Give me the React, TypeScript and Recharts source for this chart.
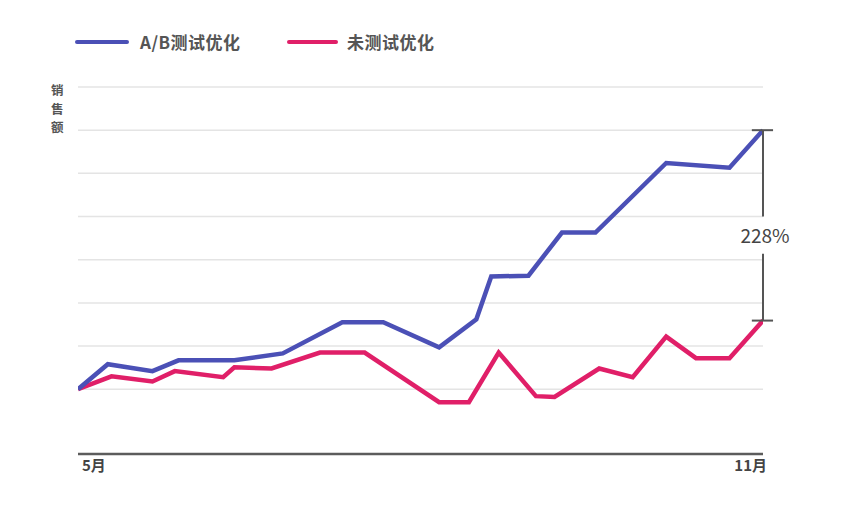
import React from 'react';
import {
    Line,
    LineChart,
    ReferenceDot,
    ReferenceLine,
    XAxis,
    YAxis,
} from 'recharts';

// x = days since 5月1日, y = 销售额 (relative units)
const abDays = [0, 8, 20, 27, 42, 55, 71, 82, 97, 107, 111, 121, 130, 139, 158, 175, 184];
const abSales = [100, 158, 142, 167, 167, 183, 255, 255, 197, 262, 361, 363, 463, 463, 624, 613, 700];

const plainDays = [0, 9, 20, 26, 39, 42, 52, 65, 77, 97, 105, 113, 123, 128, 140, 149, 158, 166, 175, 184];
const plainSales = [100, 130, 118, 142, 128, 151, 148, 185, 185, 70, 70, 185, 84, 82, 148, 128, 222, 172, 172, 259];

const monthTicks = [0, 184];
const monthLabels = ['5月', '11月'];
const gridTicks = [100, 200, 300, 400, 500, 600, 700, 800];

const seriesNames = ['A/B测试优化', '未测试优化'];
const yTitle = ['销', '售', '额'];
const liftLabel = '228%';

const BLUE = '#4b50b6';
const PINK = '#e01f68';
const FONT = '"Noto Sans CJK SC", "Noto Sans", sans-serif';

const abData = abDays.map((d, i) => ({ day: d, sales: abSales[i] }));
const plainData = plainDays.map((d, i) => ({ day: d, sales: plainSales[i] }));

const MonthTick = (props: any) => {
    const { x, y, payload, index } = props;
    const isFirst = index === 0;
    return (
        <text
            x={x + 4}
            y={y + 9}
            textAnchor={isFirst ? 'start' : 'end'}
            fontSize={15}
            fontWeight={700}
            fill="#444"
            fontFamily={FONT}
        >
            {monthLabels[monthTicks.indexOf(payload.value)]}
        </text>
    );
};

const legendText: React.CSSProperties = {
    position: 'absolute',
    top: 30,
    fontSize: 17,
    lineHeight: '24px',
    fontWeight: 700,
    color: '#555',
    letterSpacing: 0.5,
};

export default function App() {
    const top = abSales[abSales.length - 1];
    const bottom = plainSales[plainSales.length - 1];
    const end = monthTicks[1];

    return (
        <div style={{ position: 'absolute', left: 0, top: 0, width: 844, height: 512, background: '#fff', fontFamily: FONT }}>
            {/* legend */}
            <div style={{ position: 'absolute', left: 75, top: 40, width: 54, height: 4, borderRadius: 2, background: BLUE }} />
            <div style={{ ...legendText, left: 140 }}>{seriesNames[0]}</div>
            <div style={{ position: 'absolute', left: 287, top: 40, width: 51, height: 4, borderRadius: 2, background: PINK }} />
            <div style={{ ...legendText, left: 347 }}>{seriesNames[1]}</div>
            {/* y axis title, one char per row */}
            {yTitle.map((ch, i) => (
                <div
                    key={ch}
                    style={{ position: 'absolute', left: 51, top: 81 + i * 18.5, fontSize: 12.5, lineHeight: '18px', fontWeight: 700, color: '#555' }}
                >
                    {ch}
                </div>
            ))}

            <LineChart width={844} height={512} margin={{ top: 87, right: 81, left: 78, bottom: 28 }}>
                <XAxis
                    type="number"
                    dataKey="day"
                    domain={[0, 184]}
                    ticks={monthTicks}
                    tick={<MonthTick />}
                    tickLine={false}
                    axisLine={{ stroke: '#5c5c5c', strokeWidth: 2.5 }}
                    height={30}
                    allowDataOverflow
                />
                <YAxis
                    type="number"
                    domain={[-50, 800]}
                    ticks={gridTicks}
                    width={0}
                    tick={false}
                    tickLine={false}
                    axisLine={false}
                />
                {gridTicks.map((t) => (
                    <ReferenceLine key={t} y={t} stroke="#e4e4e4" strokeWidth={1.5} />
                ))}
                <Line
                    data={plainData}
                    dataKey="sales"
                    name={seriesNames[1]}
                    stroke={PINK}
                    strokeWidth={4.5}
                    dot={false}
                    type="linear"
                    isAnimationActive={false}
                />
                <Line
                    data={abData}
                    dataKey="sales"
                    name={seriesNames[0]}
                    stroke={BLUE}
                    strokeWidth={4.5}
                    dot={false}
                    type="linear"
                    isAnimationActive={false}
                />
                {/* bracket showing the lift */}
                <ReferenceLine segment={[{ x: end, y: top }, { x: end, y: 500 }]} stroke="#555" strokeWidth={2} ifOverflow="visible" />
                <ReferenceLine segment={[{ x: end, y: 414 }, { x: end, y: bottom }]} stroke="#555" strokeWidth={2} ifOverflow="visible" />
                <ReferenceLine segment={[{ x: 181, y: top }, { x: 186.7, y: top }]} stroke="#555" strokeWidth={2} ifOverflow="visible" />
                <ReferenceLine segment={[{ x: 181, y: bottom }, { x: 186.7, y: bottom }]} stroke="#555" strokeWidth={2} ifOverflow="visible" />
                <ReferenceDot
                    x={end}
                    y={455}
                    r={1}
                    fill="none"
                    stroke="none"
                    ifOverflow="visible"
                    label={{ value: liftLabel, position: 'center', fontSize: 19, fill: '#444', fontFamily: FONT, dx: 2 }}
                />
            </LineChart>
        </div>
    );
}
